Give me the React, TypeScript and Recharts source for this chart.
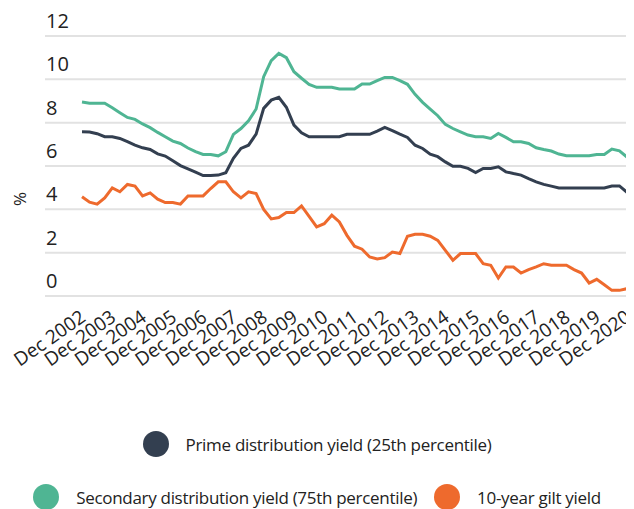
import { CartesianGrid, Legend, Line, LineChart, XAxis, YAxis } from "recharts"

// quarterly periods, Dec 2002 .. Dec 2020
const years = [
  2003, 2004, 2005, 2006, 2007, 2008, 2009, 2010, 2011,
  2012, 2013, 2014, 2015, 2016, 2017, 2018, 2019, 2020,
]
const quarterMonths = ["Mar", "Jun", "Sep", "Dec"]
const periods = ["Dec 2002", ...years.flatMap((y) => quarterMonths.map((m) => `${m} ${y}`))]

const primeYield = [
  7.58, 7.57, 7.49, 7.35, 7.35, 7.27, 7.12, 6.96, 6.84, 6.76, 6.56, 6.46, 6.24, 6.02, 5.87, 5.72, 5.56, 5.56, 5.58,
  5.69, 6.35, 6.81, 6.96, 7.47, 8.66, 9.04, 9.17, 8.71, 7.89, 7.53, 7.35, 7.35, 7.35, 7.35, 7.35, 7.46, 7.46,
  7.46, 7.46, 7.61, 7.78, 7.63, 7.47, 7.32, 6.96, 6.81, 6.55, 6.43, 6.19, 5.99, 5.99, 5.89, 5.7, 5.89, 5.89,
  5.96, 5.73, 5.65, 5.58, 5.42, 5.27, 5.15, 5.07, 4.99, 4.99, 4.99, 4.99, 4.99, 4.99, 4.99, 5.08, 5.08, 4.78,
]

const secondaryYield = [
  8.95, 8.9, 8.9, 8.9, 8.69, 8.46, 8.24, 8.15, 7.94, 7.77, 7.55, 7.35, 7.15, 7.04, 6.83, 6.66, 6.53, 6.53, 6.47,
  6.66, 7.46, 7.73, 8.09, 8.63, 10.12, 10.86, 11.2, 11.0, 10.35, 10.05, 9.77, 9.63, 9.63, 9.63, 9.55, 9.55, 9.55,
  9.78, 9.78, 9.94, 10.09, 10.09, 9.94, 9.77, 9.31, 8.94, 8.63, 8.32, 7.92, 7.73, 7.58, 7.43, 7.35, 7.35, 7.27,
  7.5, 7.32, 7.12, 7.12, 7.04, 6.84, 6.76, 6.69, 6.55, 6.47, 6.47, 6.47, 6.47, 6.53, 6.53, 6.78, 6.7, 6.41,
]

const giltYield = [
  4.58, 4.33, 4.24, 4.53, 4.99, 4.81, 5.15, 5.07, 4.62, 4.76, 4.47, 4.31, 4.31, 4.24, 4.62, 4.62, 4.62, 4.96, 5.27,
  5.27, 4.81, 4.53, 4.81, 4.73, 4.0, 3.56, 3.62, 3.85, 3.85, 4.16, 3.68, 3.19, 3.34, 3.73, 3.42, 2.8, 2.3,
  2.16, 1.8, 1.71, 1.77, 2.03, 1.96, 2.76, 2.85, 2.85, 2.76, 2.57, 2.11, 1.65, 1.96, 1.96, 1.96, 1.49, 1.42,
  0.83, 1.34, 1.34, 1.06, 1.22, 1.34, 1.49, 1.42, 1.42, 1.42, 1.22, 1.06, 0.6, 0.77, 0.52, 0.26, 0.26, 0.34,
]

const yTicks = [0, 2, 4, 6, 8, 10, 12]
const legendOrder = ["prime", "secondary", "gilt"]

const data = periods.map((name, i) => ({
  name,
  prime: primeYield[i],
  secondary: secondaryYield[i],
  gilt: giltYield[i],
}))

const FONT = "'Open Sans', sans-serif"
const TEXT = "#222"

function YTick({ y, payload }: any) {
  return (
    <text x={38} y={y - 8} fill={TEXT} fontSize={20} fontFamily={FONT}>
      {payload.value}
    </text>
  )
}

function XTick({ x, y, payload }: any) {
  const ax = x + 5
  const ay = y + 24
  return (
    <text
      x={ax}
      y={ay}
      textAnchor="end"
      transform={`rotate(-35, ${ax}, ${ay})`}
      fill={TEXT}
      fontSize={19}
      fontFamily={FONT}
    >
      {payload.value}
    </text>
  )
}

const percentLabel = () => (
  <text
    x={11}
    y={191}
    transform="rotate(-90, 11, 191)"
    textAnchor="middle"
    dominantBaseline="central"
    fill={TEXT}
    fontSize={17}
    fontFamily={FONT}
  >
    %
  </text>
)

const renderLegend = ({ payload }: any) => {
  const items = [...(payload || [])].sort(
    (a: any, b: any) => legendOrder.indexOf(a.dataKey) - legendOrder.indexOf(b.dataKey)
  )
  return (
    <div
      style={{
        display: "flex",
        flexWrap: "wrap",
        justifyContent: "center",
        columnGap: 17,
        rowGap: 27,
        fontFamily: FONT,
        fontSize: 17,
        color: TEXT,
      }}
    >
      {items.map((item: any) => (
        <div key={item.value} style={{ display: "flex", alignItems: "center", height: 26 }}>
          <span
            style={{
              width: 26,
              height: 26,
              borderRadius: "50%",
              background: item.color,
              marginRight: 17,
              flexShrink: 0,
            }}
          />
          <span style={{ whiteSpace: "nowrap", letterSpacing: -0.3 }}>{item.value}</span>
        </div>
      ))}
    </div>
  )
}

export default function App() {
  return (
    <LineChart width={626} height={501} data={data} margin={{ top: 28, right: 3, left: 0, bottom: 133 }}>
      <CartesianGrid vertical={false} stroke="#e2e2e2" strokeWidth={2} />
      <XAxis
        dataKey="name"
        interval={3}
        height={80}
        axisLine={false}
        tickLine={false}
        tickSize={0}
        tickMargin={0}
        padding={{ left: 37, right: 4 }}
        tick={<XTick />}
      />
      <YAxis
        width={37}
        domain={[0, 12]}
        ticks={yTicks}
        axisLine={false}
        tickLine={false}
        tick={<YTick />}
        label={percentLabel}
      />
      <Legend
        layout="vertical"
        align="center"
        verticalAlign="middle"
        wrapperStyle={{ top: 423, left: 0, width: 618 }}
        content={renderLegend}
      />
      <Line
        name="Prime distribution yield (25th percentile)"
        dataKey="prime"
        stroke="#333f50"
        strokeWidth={3}
        dot={false}
        type="linear"
        isAnimationActive={false}
      />
      <Line
        name="Secondary distribution yield (75th percentile)"
        dataKey="secondary"
        stroke="#4fb593"
        strokeWidth={3}
        dot={false}
        type="linear"
        isAnimationActive={false}
      />
      <Line
        name="10-year gilt yield"
        dataKey="gilt"
        stroke="#ee6a2d"
        strokeWidth={3}
        dot={false}
        type="linear"
        isAnimationActive={false}
      />
    </LineChart>
  )
}
